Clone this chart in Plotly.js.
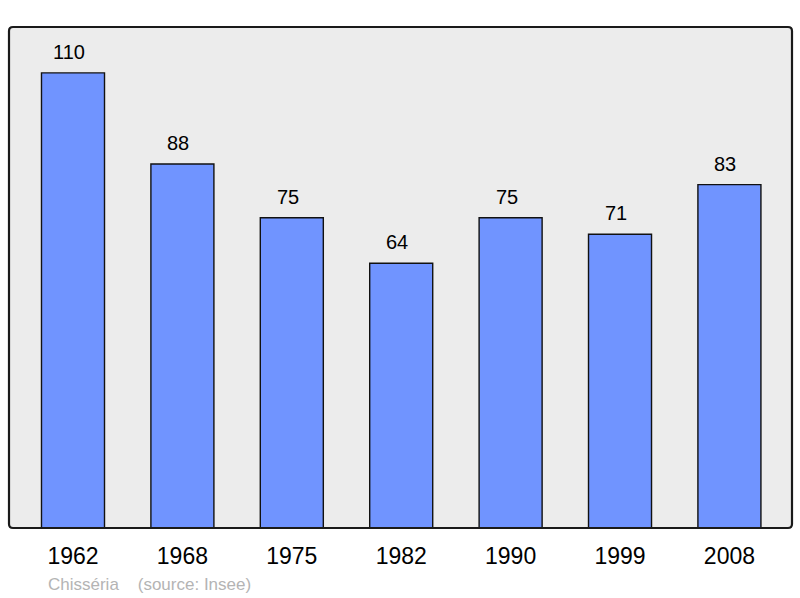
<!DOCTYPE html>
<html>
<head>
<meta charset="utf-8">
<script src="https://cdn.plot.ly/plotly-3.0.1.min.js"></script>
<style>html,body{margin:0;padding:0;background:#fff;}#chart{width:800px;height:598px;}</style>
</head>
<body>
<div id="chart"></div>
<script>
const years = ["1962", "1968", "1975", "1982", "1990", "1999", "2008"];
const population = [110, 88, 75, 64, 75, 71, 83];
const positions = [0, 1, 2, 3, 4, 5, 6];
const footerText = "Chisséria    (source: Insee)";

const trace = {
  type: "bar",
  x: positions,
  y: population,
  width: 0.576,
  marker: { color: "#7094ff", line: { color: "#111", width: 1.4 } },
  hoverinfo: "none"
};

const annotations = positions.map((p, i) => ({
  x: p, y: population[i], xref: "x", yref: "y",
  text: String(population[i]), showarrow: false,
  yanchor: "middle", yshift: 21, xshift: -4,
  font: { family: "Liberation Sans, Arial, sans-serif", size: 20, color: "#000" }
}));
annotations.push({
  x: (46 - 9) / 783, y: (528 - 584) / 501, xref: "paper", yref: "paper",
  xanchor: "left", yanchor: "middle", showarrow: false,
  text: footerText,
  font: { family: "Liberation Sans, Arial, sans-serif", size: 17, color: "#b4b4b4" }
});

// rounded frame path in paper coordinates (radius ~4px)
const rx = 4 / 783, ry = 4 / 501;
const framePath = "M " + rx + ",1 L " + (1 - rx) + ",1 Q 1,1 1," + (1 - ry) +
  " L 1," + ry + " Q 1,0 " + (1 - rx) + ",0 L " + rx + ",0 Q 0,0 0," + ry +
  " L 0," + (1 - ry) + " Q 0,1 " + rx + ",1 Z";

const layout = {
  width: 800, height: 598,
  margin: { l: 9, r: 8, t: 27, b: 70 },
  paper_bgcolor: "#ffffff",
  plot_bgcolor: "#ececec",
  showlegend: false,
  xaxis: {
    range: [-0.585, 6.572],
    tickvals: positions, ticktext: years,
    showgrid: false, zeroline: false, showline: false,
    ticks: "", ticklabelstandoff: 12,
    tickfont: { family: "Liberation Sans, Arial, sans-serif", size: 23, color: "#000" },
    fixedrange: true
  },
  yaxis: {
    range: [0, 121.1],
    showgrid: false, zeroline: false, showline: false,
    showticklabels: false, ticks: "", fixedrange: true
  },
  annotations: annotations,
  shapes: [{
    type: "path", xref: "paper", yref: "paper", path: framePath,
    line: { color: "#1a1a1a", width: 2.2 }, fillcolor: "rgba(0,0,0,0)"
  }]
};

Plotly.newPlot("chart", [trace], layout, { displayModeBar: false, staticPlot: true });
</script>
</body>
</html>
